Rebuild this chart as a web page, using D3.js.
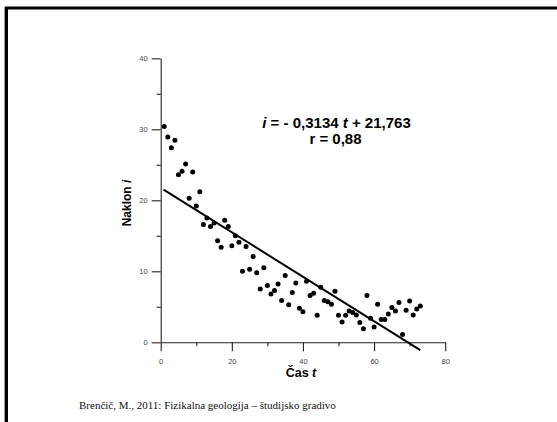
<!DOCTYPE html>
<html>
<head>
<meta charset="utf-8">
<script src="https://cdn.jsdelivr.net/npm/d3@7"></script>
<style>
  body { margin: 0; background: #ffffff; }
  svg { display: block; }
</style>
</head>
<body>
<div id="vis"></div>
<script>
// Frame and plot area
const FRAME_WIDTH = 557;
const FRAME_HEIGHT = 422;
const PLOT = {left: 160.7, right: 445.2, top: 58.3, bottom: 342.3};

// Data: time t and slope i
const TIME = [1, 2, 3, 4, 5, 6, 7, 8, 9, 10, 11, 12, 13, 14, 15, 16, 17, 18, 19, 20,
              21, 22, 23, 24, 25, 26, 27, 28, 29, 30, 31, 32, 33, 34, 35, 36, 37, 38, 39, 40,
              41, 42, 43, 44, 45, 46, 47, 48, 49, 50, 51, 52, 53, 54, 55, 56, 57, 58, 59, 60,
              61, 62, 63, 64, 65, 66, 67, 68, 69, 70, 71, 72, 73];
const SLOPE = [30.4, 28.9, 27.4, 28.45, 23.6, 24.1, 25.1, 20.3, 24.0, 19.2,
               21.2, 16.6, 17.5, 16.3, 16.8, 14.3, 13.4, 17.2, 16.3, 13.6,
               15.0, 14.1, 10.0, 13.5, 10.3, 12.1, 9.8, 7.5, 10.5, 8.0,
               6.8, 7.3, 8.2, 5.9, 9.4, 5.3, 7.0, 8.35, 4.8, 4.3,
               8.6, 6.6, 6.9, 3.8, 7.75, 5.9, 5.7, 5.35, 7.2, 3.8,
               2.85, 3.8, 4.4, 4.2, 3.85, 2.8, 1.9, 6.6, 3.4, 2.15,
               5.35, 3.2, 3.2, 4.0, 4.9, 4.4, 5.6, 1.1, 4.5, 5.8,
               3.85, 4.7, 5.1];

// regression line i = -0.3134 t + 21.763, drawn over the data range
const FIT_SLOPE = -0.3134;
const FIT_INTERCEPT = 21.763;
const FIT_RANGE = [0.8, 73];

// ticks
const X_MAJOR = [0, 20, 40, 60, 80];
const X_MINOR = [10, 30, 50, 70];
const Y_MAJOR = [0, 10, 20, 30, 40];
const Y_MINOR = [5, 15, 25, 35];

const FRAME = d3.select("#vis")
                .append("svg")
                  .attr("width", FRAME_WIDTH)
                  .attr("height", FRAME_HEIGHT);

// white background and the slide border
FRAME.append("rect")
     .attr("width", FRAME_WIDTH)
     .attr("height", FRAME_HEIGHT)
     .attr("fill", "#ffffff");

FRAME.append("line")
     .attr("x1", 4.5).attr("x2", 4.5)
     .attr("y1", 7).attr("y2", FRAME_HEIGHT)
     .attr("stroke", "#9a9a9a")
     .attr("stroke-width", 1);

FRAME.append("rect")
     .attr("x", 6.5).attr("y", 8)
     .attr("width", FRAME_WIDTH + 20)
     .attr("height", FRAME_HEIGHT + 20)
     .attr("fill", "none")
     .attr("stroke", "#000")
     .attr("stroke-width", 3);

// scales
const X_SCALE = d3.scaleLinear()
                  .domain([0, 80])
                  .range([PLOT.left, PLOT.right]);

const Y_SCALE = d3.scaleLinear()
                  .domain([0, 40])
                  .range([PLOT.bottom, PLOT.top]);

// x axis (major ticks with labels, then minor ticks)
FRAME.append("g")
     .attr("transform", "translate(0," + PLOT.bottom + ")")
     .call(d3.axisBottom(X_SCALE).tickValues(X_MAJOR).tickSize(9).tickPadding(7).tickSizeOuter(0));

FRAME.append("g")
     .attr("transform", "translate(0," + PLOT.bottom + ")")
     .call(d3.axisBottom(X_SCALE).tickValues(X_MINOR).tickSize(4).tickFormat("").tickSizeOuter(0))
     .select(".domain").remove();

// y axis
FRAME.append("g")
     .attr("transform", "translate(" + PLOT.left + ",0)")
     .call(d3.axisLeft(Y_SCALE).tickValues(Y_MAJOR).tickSize(9).tickPadding(4).tickSizeOuter(0));

FRAME.append("g")
     .attr("transform", "translate(" + PLOT.left + ",0)")
     .call(d3.axisLeft(Y_SCALE).tickValues(Y_MINOR).tickSize(4).tickFormat("").tickSizeOuter(0))
     .select(".domain").remove();

FRAME.selectAll(".tick text")
     .attr("font-family", "Liberation Sans, Arial, sans-serif")
     .attr("font-size", "7.5px")
     .attr("fill", "#444");

FRAME.selectAll(".domain, .tick line")
     .attr("stroke", "#222")
     .attr("stroke-width", 1.1);

// regression line
FRAME.append("line")
     .attr("x1", X_SCALE(FIT_RANGE[0]))
     .attr("y1", Y_SCALE(FIT_SLOPE * FIT_RANGE[0] + FIT_INTERCEPT))
     .attr("x2", X_SCALE(FIT_RANGE[1]))
     .attr("y2", Y_SCALE(FIT_SLOPE * FIT_RANGE[1] + FIT_INTERCEPT))
     .attr("stroke", "#000")
     .attr("stroke-width", 2);

// data points
FRAME.selectAll("points")
     .data(TIME)
     .enter()
     .append("circle")
       .attr("cx", (d) => X_SCALE(d))
       .attr("cy", (d, i) => Y_SCALE(SLOPE[i]))
       .attr("r", 2.5)
       .attr("fill", "#000");

// axis titles
const TITLE_FONT = "Liberation Sans, Arial, sans-serif";

const xTitle = FRAME.append("text")
     .attr("x", 301)
     .attr("y", 376.5)
     .attr("text-anchor", "middle")
     .attr("font-family", TITLE_FONT)
     .attr("font-size", "12.5px")
     .attr("font-weight", "bold");
xTitle.append("tspan").text("Čas ");
xTitle.append("tspan").attr("font-style", "italic").text("t");

const yTitle = FRAME.append("text")
     .attr("transform", "translate(131,203) rotate(-90)")
     .attr("text-anchor", "middle")
     .attr("font-family", TITLE_FONT)
     .attr("font-size", "12px")
     .attr("font-weight", "bold");
yTitle.append("tspan").text("Naklon ");
yTitle.append("tspan").attr("font-style", "italic").text("i");

// regression equation
const eq = FRAME.append("text")
     .attr("x", 336.5)
     .attr("y", 127.5)
     .attr("text-anchor", "middle")
     .attr("font-family", TITLE_FONT)
     .attr("font-size", "15px")
     .attr("font-weight", "bold");
eq.append("tspan").attr("font-style", "italic").text("i");
eq.append("tspan").text(" = - 0,3134 ");
eq.append("tspan").attr("font-style", "italic").text("t");
eq.append("tspan").text(" + 21,763");

FRAME.append("text")
     .attr("x", 335.5)
     .attr("y", 144)
     .attr("text-anchor", "middle")
     .attr("font-family", TITLE_FONT)
     .attr("font-size", "15px")
     .attr("font-weight", "bold")
     .text("r = 0,88");

// source line
FRAME.append("text")
     .attr("x", 79)
     .attr("y", 408.5)
     .attr("font-family", "Liberation Serif, Times New Roman, serif")
     .attr("font-size", "11px")
     .attr("fill", "#111")
     .text("Brenčič, M., 2011: Fizikalna geologija – študijsko gradivo");
</script>
</body>
</html>
